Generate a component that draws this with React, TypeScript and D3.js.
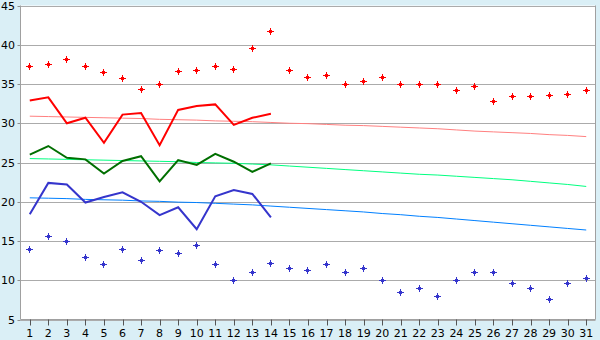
import React from "react";
import * as d3 from "d3";

const days = d3.range(1, 32);
const recordHigh = [37.2, 37.5, 38.1, 37.2, 36.5, 35.7, 34.3, 35.0, 36.6, 36.7, 37.2, 36.8, 39.5, 41.7, 36.7, 35.8, 36.1, 35.0, 35.3, 35.8, 34.9, 35.0, 35.0, 34.2, 34.7, 32.8, 33.4, 33.4, 33.5, 33.7, 34.2];
const recordLow = [13.9, 15.6, 14.9, 12.9, 12.0, 13.9, 12.5, 13.8, 13.4, 14.4, 12.0, 10.0, 11.0, 12.1, 11.5, 11.2, 12.0, 11.0, 11.5, 10.0, 8.4, 8.9, 7.9, 10.0, 11.0, 11.0, 9.6, 8.9, 7.5, 9.6, 10.2];
const actualMax = [32.9, 33.3, 30.0, 30.7, 27.5, 31.1, 31.3, 27.2, 31.7, 32.2, 32.4, 29.8, 30.7, 31.2];
const actualMean = [26.0, 27.1, 25.6, 25.4, 23.6, 25.2, 25.8, 22.6, 25.3, 24.7, 26.1, 25.1, 23.8, 24.9];
const actualMin = [18.4, 22.4, 22.2, 19.9, 20.6, 21.2, 20.0, 18.3, 19.3, 16.5, 20.7, 21.5, 21.0, 18.0];
const normalMax = [30.9, 30.85, 30.8, 30.75, 30.7, 30.65, 30.6, 30.5, 30.45, 30.4, 30.3, 30.25, 30.2, 30.1, 30.0, 29.95, 29.85, 29.75, 29.7, 29.6, 29.5, 29.4, 29.3, 29.15, 29.0, 28.9, 28.8, 28.7, 28.55, 28.45, 28.3];
const normalMean = [25.5, 25.45, 25.4, 25.35, 25.3, 25.25, 25.2, 25.15, 25.1, 25.0, 24.95, 24.9, 24.8, 24.7, 24.55, 24.4, 24.25, 24.1, 23.95, 23.8, 23.65, 23.5, 23.4, 23.25, 23.1, 22.95, 22.8, 22.6, 22.4, 22.2, 21.95];
const normalMin = [20.5, 20.45, 20.4, 20.3, 20.25, 20.2, 20.1, 20.05, 19.95, 19.9, 19.8, 19.7, 19.6, 19.45, 19.3, 19.15, 19.0, 18.85, 18.7, 18.5, 18.35, 18.15, 18.0, 17.8, 17.6, 17.4, 17.2, 17.0, 16.8, 16.6, 16.4];
const yTicks = [5, 10, 15, 20, 25, 30, 35, 40, 45];

const W = 600, H = 340;
const L = 20.5, R = 595.5, T = 5.5, B = 319.5;

const marker = "M-0.5,-3.5H0.5V-1.5H1.5V-0.5H3.5V0.5H1.5V1.5H0.5V3.5H-0.5V1.5H-1.5V0.5H-3.5V-0.5H-1.5V-1.5H-0.5Z";

export default function App() {
  const x = d3.scaleBand<number>().domain(days).range([L, R]).paddingInner(0).paddingOuter(0);
  const cx = (d: number) => (x(d) as number) + x.bandwidth() / 2;
  const y = d3.scaleLinear().domain([5, 45]).range([B, T]);
  const line = (arr: number[]) =>
    d3.line<number>().x((_, i) => cx(days[i])).y((v) => y(v))(arr) as string;
  const font = "'DejaVu Sans', Verdana, sans-serif";
  const px = (v: number) => Math.floor(v) + 0.5;
  return (
    <svg width={W} height={H} style={{ position: "absolute", left: 0, top: 0, display: "block" }}>
      <rect x={0} y={0} width={W} height={H} fill="#DAEFF6" />
      <rect x={L} y={T} width={R - L} height={B - T} fill="#FFFFFF" />
      {yTicks.map((t) => (
        <g key={t}>
          <line x1={L} x2={R} y1={Math.round(y(t)) + 0.5} y2={Math.round(y(t)) + 0.5} stroke="#ABABAB" strokeWidth={1} />
          <line x1={L - 3} x2={L} y1={Math.round(y(t)) + 0.5} y2={Math.round(y(t)) + 0.5} stroke="#8F8F8F" strokeWidth={1} />
          <text x={15} y={y(t) + 4} textAnchor="end" fontFamily={font} fontSize={11} fill="#000">{t}</text>
        </g>
      ))}
      <line x1={L} x2={L} y1={T} y2={B} stroke="#A0A0A0" />
      <line x1={R} x2={R} y1={T} y2={B} stroke="#A0A0A0" />
      <line x1={L} x2={R} y1={B} y2={B} stroke="#A0A0A0" />
      {days.map((d) => (
        <g key={d}>
          <line x1={Math.round(cx(d)) + 0.5} x2={Math.round(cx(d)) + 0.5} y1={B} y2={B + 6} stroke="#555" />
          <text x={cx(d)} y={337} textAnchor="middle" fontFamily={font} fontSize={11} fill="#000">{d}</text>
        </g>
      ))}
      <path d={line(normalMax)} fill="none" stroke="#FF8080" strokeWidth={1} />
      <path d={line(normalMean)} fill="none" stroke="#00FF80" strokeWidth={1} />
      <path d={line(normalMin)} fill="none" stroke="#0080FF" strokeWidth={1} />
      <path d={line(actualMax)} fill="none" stroke="#FF0000" strokeWidth={2} />
      <path d={line(actualMean)} fill="none" stroke="#006F00" strokeWidth={2} />
      <path d={line(actualMin)} fill="none" stroke="#3535CC" strokeWidth={2} />
      {recordHigh.map((v, i) => (
        <path key={"h" + i} d={marker} transform={`translate(${px(cx(days[i]))},${px(y(v))})`} fill="#FF0000" />
      ))}
      {recordLow.map((v, i) => (
        <path key={"l" + i} d={marker} transform={`translate(${px(cx(days[i]))},${px(y(v))})`} fill="#3535CC" />
      ))}
    </svg>
  );
}
